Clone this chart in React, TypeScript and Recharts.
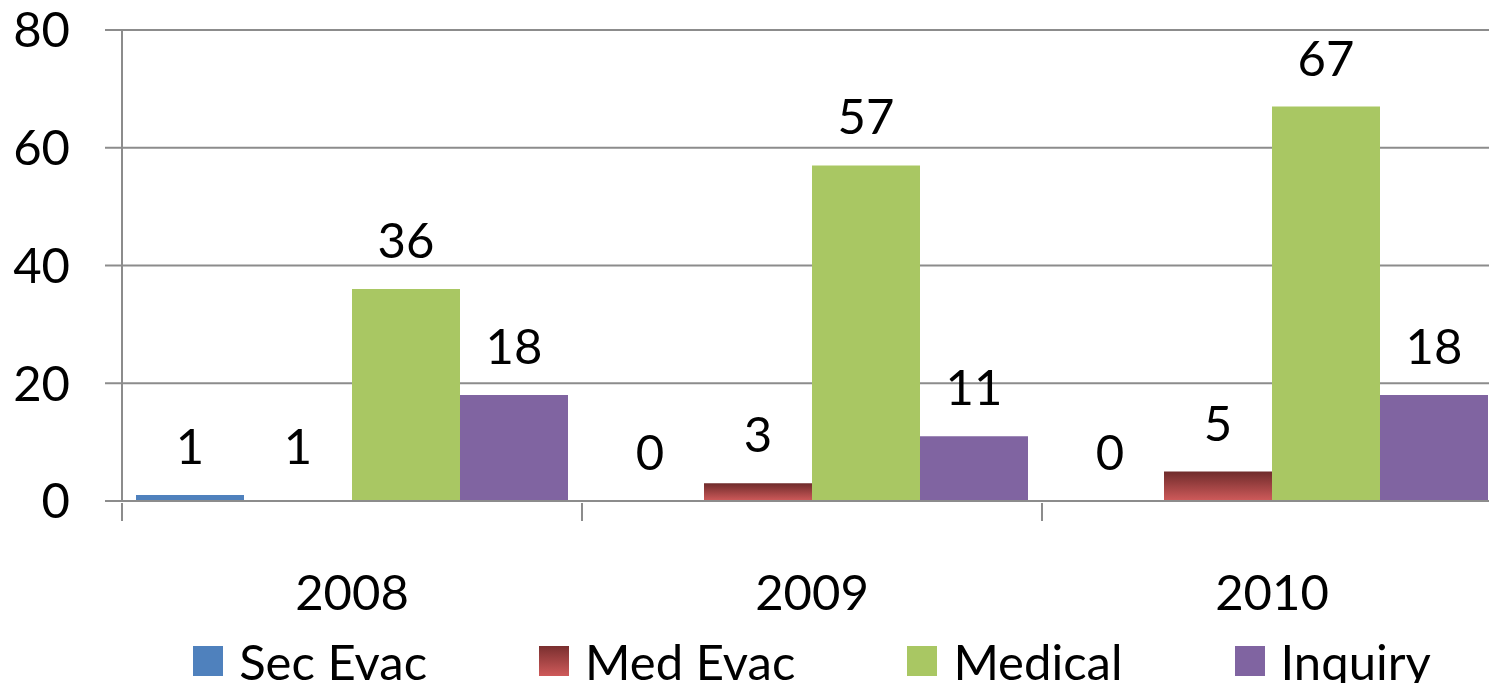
import React from 'react';
import { BarChart, Bar, XAxis, YAxis, CartesianGrid, Legend, LabelList, Cell } from 'recharts';

// values
const years = ['2008', '2009', '2010'];
const secEvac = [1, 0, 0];
const medEvac = [1, 3, 5];
const medical = [36, 57, 67];
const inquiry = [18, 11, 18];
const yTicks = [0, 20, 40, 60, 80];

const data = years.map((year, i) => ({
    year,
    secEvac: secEvac[i],
    medEvac: medEvac[i],
    medical: medical[i],
    inquiry: inquiry[i],
}));

const FONT = 'Lato, "Liberation Sans", sans-serif';
const FS = 49;
const GRID = '#8c8c8c';

const series = [
    { key: 'secEvac', name: 'Sec Evac', fill: '#4f81bd', swatch: '#4f81bd' },
    { key: 'medEvac', name: 'Med Evac', fill: 'url(#medEvacGrad)', swatch: 'linear-gradient(#7a2f2f, #cf5a5a)' },
    { key: 'medical', name: 'Medical', fill: '#a9c763', swatch: '#a9c763' },
    { key: 'inquiry', name: 'Inquiry', fill: '#8064a1', swatch: '#8064a1' },
];

// category tick: label in the middle, tick mark on the left edge of the band
const YearTick = (props: any) => {
    const { x, y, payload } = props;
    const half = payload.offset ?? 0;
    return (
        <g>
            <line x1={x - half} x2={x - half} y1={y} y2={y + 18} stroke={GRID} strokeWidth={2} />
            <text x={x} y={y + 107} textAnchor="middle" fontSize={FS} fontFamily={FONT} fill="#000">
                {payload.value}
            </text>
        </g>
    );
};

const LegendRow = () => (
    <div style={{ display: 'flex', justifyContent: 'center', alignItems: 'center', height: 60, paddingLeft: 122, fontFamily: FONT, fontSize: FS, color: '#000' }}>
        {series.map((s, i) => (
            <div key={s.key} style={{ display: 'flex', alignItems: 'center', marginLeft: i === 0 ? 0 : 112 }}>
                <span style={{ width: 30, height: 30, background: s.swatch, display: 'inline-block', marginRight: 16 }} />
                <span>{s.name}</span>
            </div>
        ))}
    </div>
);

// zero-valued bars still need their "0" label, so give them an invisible sliver
const keepZero = (value: any) => (value === 0 ? 0.01 : 0);

export default function App() {
    return (
        <div style={{ margin: -8, width: 1497, height: 691, overflow: 'hidden', background: '#fff' }}>
            <BarChart
                width={1502}
                height={691}
                data={data}
                margin={{ top: 30, right: 0, left: 0, bottom: 0 }}
                barCategoryGap={14}
                barGap={0}
            >
                <defs>
                    <linearGradient id="medEvacGrad" x1="0" y1="0" x2="0" y2="1">
                        <stop offset="0%" stopColor="#6f2b2b" />
                        <stop offset="100%" stopColor="#d05b5b" />
                    </linearGradient>
                </defs>
                <CartesianGrid vertical={false} stroke={GRID} strokeWidth={2} />
                <XAxis
                    dataKey="year"
                    height={130}
                    tickSize={0}
                    tickLine={false}
                    axisLine={{ stroke: GRID, strokeWidth: 2 }}
                    tick={<YearTick />}
                    interval={0}
                />
                <YAxis
                    width={122}
                    domain={[0, 80]}
                    ticks={yTicks}
                    interval={0}
                    tickSize={17}
                    tickMargin={35}
                    axisLine={{ stroke: GRID, strokeWidth: 2 }}
                    tickLine={{ stroke: GRID, strokeWidth: 2 }}
                    tick={{ fontSize: FS, fontFamily: FONT, fill: '#000' }}
                />
                <Legend verticalAlign="bottom" content={<LegendRow />} wrapperStyle={{ left: 0, width: 1502 }} />
                {series.map((s) => (
                    <Bar key={s.key} dataKey={s.key} name={s.name} fill={s.fill} minPointSize={keepZero} isAnimationActive={false}>
                        {s.key === 'medEvac' &&
                            data.map((_, i) => (
                                // the 2008 Med Evac bar is not drawn in the original, only its label
                                <Cell key={`cell-${i}`} fill={i === 0 ? 'transparent' : s.fill} />
                            ))}
                        <LabelList dataKey={s.key} position="top" offset={31} fontSize={FS} fontFamily={FONT} fill="#000" />
                    </Bar>
                ))}
            </BarChart>
        </div>
    );
}
